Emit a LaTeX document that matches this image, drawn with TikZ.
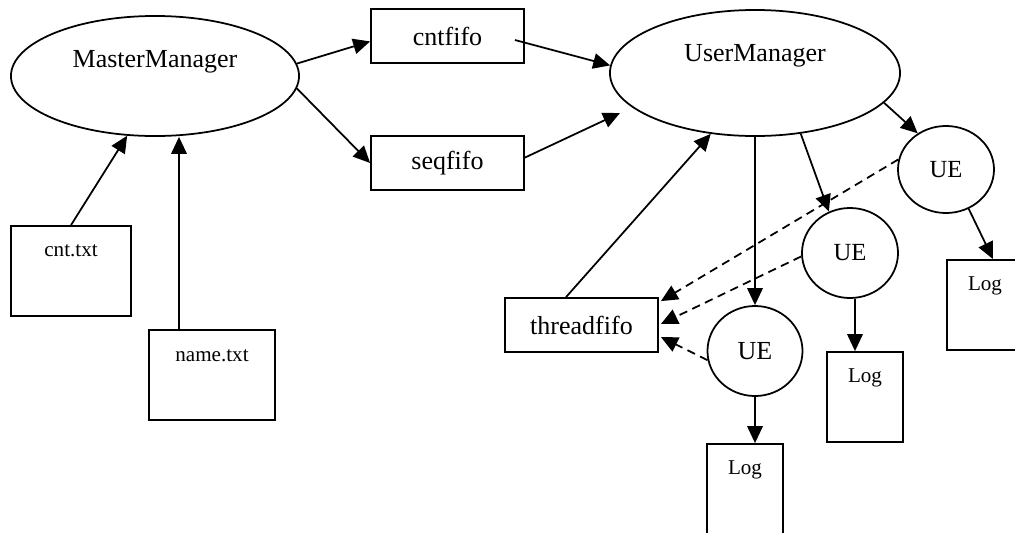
\documentclass[tikz,border=0pt]{standalone}
\usepackage{fontspec}
\setmainfont{Liberation Serif}
\usetikzlibrary{shapes.geometric,arrows.meta,calc}

\begin{document}
\begin{tikzpicture}[x=0.025cm,y=-0.025cm,
    line width=1.25pt,
    >={Triangle[length=12pt,width=11pt]},
    bigtxt/.style={font=\fontsize{18.5}{20}\selectfont},
    uetxt/.style={font=\fontsize{17.5}{19}\selectfont},
    smalltxt/.style={font=\fontsize{15}{17}\selectfont},
    proc/.style={draw,ellipse,inner sep=0pt},
    fifo/.style={draw,rectangle,inner sep=0pt,minimum width=3.825cm,minimum height=1.35cm,bigtxt},
    filebox/.style={draw,rectangle,inner sep=0pt,minimum height=2.25cm},
    logbox/.style={filebox,minimum width=1.9cm},
    uenode/.style={draw,ellipse,inner sep=0pt,minimum width=2.4cm,minimum height=2.25cm,uetxt},
    flow/.style={->},
    reply/.style={->,dash pattern=on 6pt off 4pt}]

\useasboundingbox (0,0) rectangle (1015,533);
\clip (0,0) rectangle (1015,533);

% processes
\node[proc,minimum width=7.2cm,minimum height=3.0cm] (mm) at (155,76) {};
\node[bigtxt,anchor=base] (mmlbl) at (155,67) {MasterManager};
\node[proc,minimum width=7.25cm,minimum height=3.15cm] (um) at (755,73) {};
\node[bigtxt,anchor=base] (umlbl) at (755,61) {UserManager};

% fifos
\node[fifo] (cntfifo) at (447.5,36) {cntfifo};
\node[fifo] (seqfifo) at (447.5,163) {seqfifo};
\node[fifo] (threadfifo) at (581.5,325) {threadfifo};

% input files
\node[filebox,minimum width=3.0cm] (cnttxt) at (71,271) {};
\node[smalltxt,anchor=base] (cnttxtlbl) at ($(cnttxt.north)+(0,31)$) {cnt.txt};
\node[filebox,minimum width=3.15cm] (nametxt) at (212,375) {};
\node[smalltxt,anchor=base] (nametxtlbl) at ($(nametxt.north)+(0,32)$) {name.txt};

% user entities
\node[uenode,font=\fontsize{18.5}{20}\selectfont,minimum width=2.375cm] (ue1) at (755,351) {UE};
\node[uenode] (ue2) at (850,253) {UE};
\node[uenode,minimum height=2.175cm] (ue3) at (946,169.5) {UE};

% logs
\node[logbox] (log1) at (745,489) {};
\node[smalltxt,anchor=base] (log1lbl) at ($(log1.north)+(0,31)$) {Log};
\node[logbox] (log2) at (865,397) {};
\node[smalltxt,anchor=base] (log2lbl) at ($(log2.north)+(0,31)$) {Log};
\node[logbox] (log3) at (985,305) {};
\node[smalltxt,anchor=base] (log3lbl) at ($(log3.north)+(0,31)$) {Log};

% master side
\draw[flow] (mm.5) -- (cntfifo.184);
\draw[flow] (mm.-5) -- (seqfifo.west);
\draw[flow] (cnttxt.north) -- (mm.245);
\draw[flow] ($(nametxt.north)+(-33,0)$) coordinate (nt) -- (nt |- mm.south);

% fifos into the user manager
\draw[flow] ($(cntfifo.east)+(-10,4)$) -- (um.177);
\draw[flow] (seqfifo.4) -- ($(um.center)+(-135,40)$);
\draw[flow] ($(threadfifo.north)+(-15.5,0)$) -- (um.234);

% user manager spawns entities
\draw[flow] (um.south) -- (ue1.north);
\draw[flow] (um.-53) -- (ue2.117);
\draw[flow] (um.-13) -- (ue3.128);

% entities write logs
\draw[flow] (ue1.south) -- (ue1.south |- log1.north);
\draw[flow] ($(ue2.south)+(5,0)$) coordinate (u2) -- (u2 |- log2.north);
\draw[flow] (ue3.-60) -- ($(log3.north)+(8,0)$);

% entities report back through threadfifo
\draw[reply] (ue3.168) -- ($(threadfifo.north east)+(2,4)$);
\draw[reply] (ue2.184) -- ($(threadfifo.east)+(2,-1)$);
\draw[reply] (ue1.191) -- ($(threadfifo.east)+(2,12)$);

\end{tikzpicture}
\end{document}
